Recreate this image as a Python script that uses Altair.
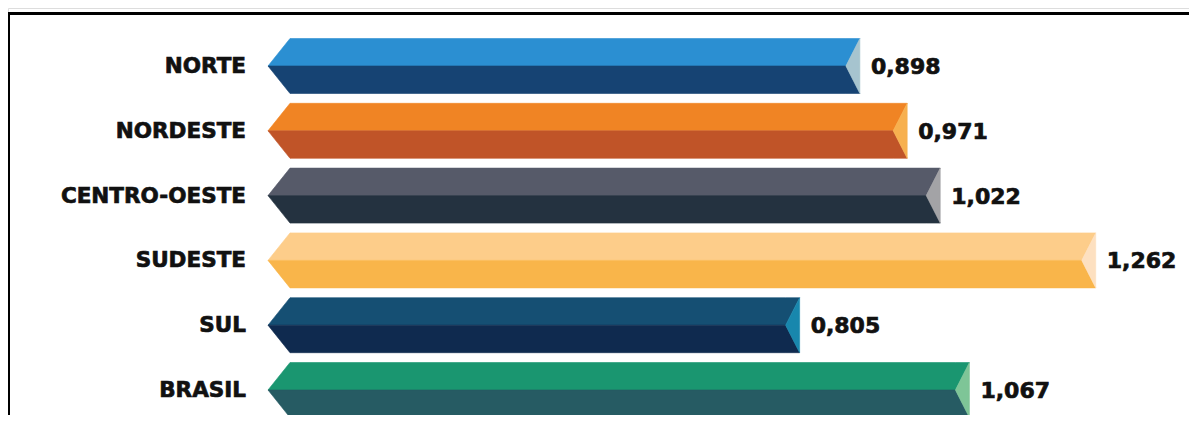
import altair as alt
import pandas as pd

regions = ["NORTE", "NORDESTE", "CENTRO-OESTE", "SUDESTE", "SUL", "BRASIL"]
values = [0.898, 0.971, 1.022, 1.262, 0.805, 1.067]

top_colors = ["#2b8fd2", "#f08424", "#565a69", "#fdcd8a", "#154f73", "#1a9670"]
bottom_colors = ["#164373", "#c05428", "#243240", "#f9b54a", "#0f2a4f", "#265b63"]
facet_colors = ["#a6c4cf", "#f7b04f", "#a3a3a6", "#fde0c0", "#1887ad", "#7ec597"]

# layout constants (pixel geometry -> data units)
PX = 648.0          # pixels per value unit
X0 = 278.0          # page x of value 0
ROW = 64.8          # pixels per row
Y0 = 66.0           # page y of first row centre
W, H = 1181, 407

x_dom = [(8 - X0) / PX, (8 + W - X0) / PX]
y_dom = [(8 - Y0) / ROW, (8 + H - Y0) / ROW]

half = 27.5 / ROW
tip = -10 / PX
corner = 12 / PX
notch = 14 / PX

rows = []
ids, cols = [], []
for i, (name, v) in enumerate(zip(regions, values)):
    t, m, b = i - half, i, i + half
    tid, bid, fid = f"{i}a", f"{i}b", f"{i}c"
    ids += [tid, bid, fid]
    cols += [top_colors[i], bottom_colors[i], facet_colors[i]]
    for x, y, y2 in [(tip, m, m), (corner, t, m), (v - notch, t, m), (v, t, t)]:
        rows.append(dict(shape=tid, x=x, y=y, y2=y2))
    for x, y, y2 in [(tip, m, m), (corner, b, m), (v - notch, b, m), (v, b, b)]:
        rows.append(dict(shape=bid, x=x, y=y, y2=y2))
    for x, y, y2 in [(v - notch, m, m), (v, t, b)]:
        rows.append(dict(shape=fid, x=x, y=y, y2=y2))

poly = pd.DataFrame(rows)
labels = pd.DataFrame(dict(region=regions, value=values, row=list(range(len(regions)))))

xs = alt.Scale(domain=x_dom, nice=False, zero=False)
ys = alt.Scale(domain=y_dom, nice=False, zero=False, reverse=True)
cs = alt.Scale(domain=ids, range=cols)

faces = alt.Chart(poly).mark_area(strokeWidth=0.6, interpolate="linear").encode(
    x=alt.X("x:Q", scale=xs, axis=None),
    y=alt.Y("y:Q", scale=ys, axis=None, stack=None),
    y2="y2:Q",
    color=alt.Color("shape:N", scale=cs, legend=None),
    stroke=alt.Stroke("shape:N", scale=cs, legend=None),
    detail="shape:N",
)

cat = alt.Chart(labels).transform_calculate(
    lx=f"{-32 / PX}"
).mark_text(
    align="right", baseline="middle", font="DejaVu Sans", fontWeight="bold",
    fontSize=21.5, color="#111111", stroke="#111111", strokeWidth=0.7, dy=1
).encode(
    x=alt.X("lx:Q", scale=xs, axis=None),
    y=alt.Y("row:Q", scale=ys, axis=None),
    text="region:N",
)

val = alt.Chart(labels).transform_calculate(
    lx=f"datum.value + {11 / PX}",
    txt="replace(format(datum.value, '.3f'), '.', ',')",
).mark_text(
    align="left", baseline="middle", font="DejaVu Sans", fontWeight="bold",
    fontSize=22, color="#111111", stroke="#111111", strokeWidth=0.7, dy=1
).encode(
    x=alt.X("lx:Q", scale=xs, axis=None),
    y=alt.Y("row:Q", scale=ys, axis=None),
    text="txt:N",
)

frame = alt.Chart(labels).mark_rect(
    fill=None, stroke="#000000", strokeWidth=3
).encode(
    x=alt.value(0.5), x2=alt.value(W + 40), y=alt.value(5.5), y2=alt.value(H + 40)
)

chart = alt.layer(frame, faces, cat, val).properties(
    width=W, height=H, padding=0, autosize=alt.AutoSizeParams(type="none")
).configure_view(stroke=None).configure(background="white")

chart.save("out.html", embed_options={"renderer": "svg", "actions": False})
